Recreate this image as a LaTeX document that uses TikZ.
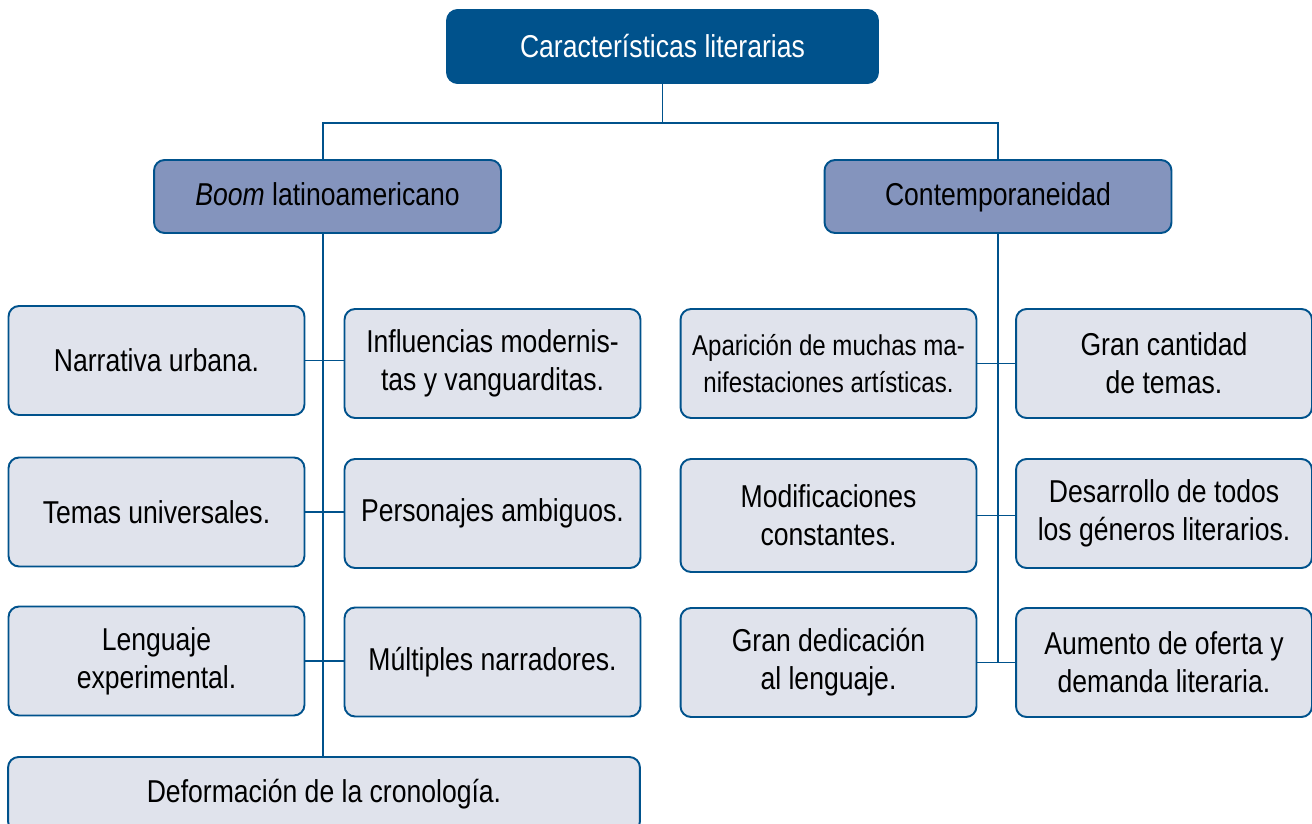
\documentclass[tikz,border=0pt]{standalone}
\usepackage{fontspec}
\setmainfont{Liberation Sans}[FakeStretch=0.84]
\usetikzlibrary{positioning}
\definecolor{azul}{RGB}{0,82,140}
\definecolor{lila}{RGB}{132,148,189}
\definecolor{gris}{RGB}{224,227,236}
\tikzset{
  caja/.style = {draw=azul, line width=1.1pt, rounded corners=6pt, align=center,
                 font=\fontsize{18}{21.5}\selectfont},
  titulo/.style = {caja, fill=azul, text=white, minimum width=8.62cm, minimum height=1.46cm},
  grupo/.style = {caja, fill=lila, text height=1.9ex, text depth=0ex, minimum width=6.94cm, minimum height=1.46cm},
  rasgo/.style = {caja, fill=gris, minimum width=5.92cm, minimum height=2.18cm},
  enlace/.style = {draw=azul, line width=1.1pt}
}

\begin{document}
\begin{tikzpicture}[x=0.02cm, y=-0.02cm]
    \useasboundingbox (0,0) rectangle (1312,824);
    % title and the two groups
    \node[titulo] (top) at (662.5,46.5) {Características literarias};
    \node[grupo] (boom) at (327.5,196.5) {\textit{Boom} latinoamericano};
    \node[grupo] (contemp) at (998,196.5) {Contemporaneidad};
    % Boom latinoamericano
    \node[rasgo] (narr) at (156.5,360.5) {Narrativa urbana.};
    \node[rasgo] (infl) at (492.5,363.5) {Influencias modernis-\\tas y vanguarditas.};
    \node[rasgo] (temas) at (156.5,512) {Temas universales.};
    \node[rasgo] (perso) at (492.5,513.5) {Personajes ambiguos.};
    \node[rasgo] (leng) at (156.5,661) {Lenguaje\\experimental.};
    \node[rasgo] (mult) at (492.5,662) {Múltiples narradores.};
    \node[rasgo, minimum width=12.64cm, minimum height=1.5cm] (defor) at (324,794.5) {Deformación de la cronología.};
    % Contemporaneidad
    \node[rasgo, font=\fontsize{16.3}{21.5}\selectfont] (apar) at (828.5,363.5) {Aparición de muchas ma-\\nifestaciones artísticas.};
    \node[rasgo] (gran) at (1164,363.5) {Gran cantidad\\de temas.};
    \node[rasgo, minimum height=2.26cm] (modi) at (828.5,515.5) {Modificaciones\\constantes.};
    \node[rasgo] (desa) at (1164,513.5) {Desarrollo de todos\\los géneros literarios.};
    \node[rasgo] (dedi) at (828.5,662.5) {Gran dedicación\\al lenguaje.};
    \node[rasgo] (aume) at (1164,662.5) {Aumento de oferta y\\demanda literaria.};
    % connectors
    \coordinate (ramaL) at (323,123);
    \coordinate (ramaR) at (998,123);
    \draw[enlace] (top.south) -- (top.south |- ramaL);
    \draw[enlace] (boom.north -| ramaL) -- (ramaL) -- (ramaR) -- (contemp.north);
    \draw[enlace] (boom.south -| ramaL) -- (defor.north -| ramaL);
    \draw[enlace] (contemp.south) -- (dedi.east -| ramaR);
    \foreach \a/\b in {narr/infl, temas/perso, leng/mult, apar/gran, modi/desa, dedi/aume} {
        \draw[enlace] (\a.east) -- (\a.east -| \b.west);
    }
\end{tikzpicture}
\end{document}
